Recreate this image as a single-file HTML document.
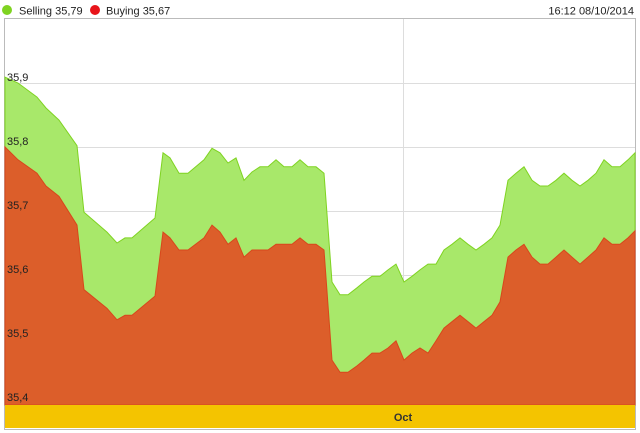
<!DOCTYPE html>
<html><head><meta charset="utf-8"><style>
body{margin:0;background:#fff;font-family:"Liberation Sans",sans-serif}
svg{display:block}
</style></head><body>
<svg id="c" width="640" height="433">
<g>
<circle cx="7" cy="10" r="5" fill="#7fd321"/>
<text x="19" y="14.5" font-size="11" fill="#222">Selling 35,79</text>
<circle cx="95" cy="10" r="5" fill="#e8141a"/>
<text x="106" y="14.5" font-size="11" fill="#222">Buying 35,67</text>
<text x="634" y="14.5" font-size="11" fill="#222" text-anchor="end">16:12 08/10/2014</text>
</g>
<rect x="4.5" y="18.5" width="631" height="411" fill="none" stroke="#bbb"/>
<g id="grid"></g>
<g id="areas"></g>
<g id="ylabels"></g>
<rect x="5" y="405" width="630" height="23" fill="#f4c400"/>
<text x="403" y="421" font-size="11" font-weight="bold" fill="#333" text-anchor="middle">Oct</text>
</svg>
<script>
const t=[0,13,32,41,54,72,79,102,112,120,127,150,158,165,174,183,199,207,215,223,231,239,247,255,263,271,279,287,295,303,311,319,327,335,343,352,359,367,375,383,391,399,407,415,423,431,439,447,455,463,471,479,487,495,503,511,519,527,535,543,551,559,567,575,583,591,599,607,615,623,630];
const selling=[35.909,35.9,35.878,35.861,35.842,35.802,35.698,35.667,35.65,35.658,35.658,35.689,35.791,35.783,35.759,35.759,35.78,35.798,35.791,35.775,35.783,35.748,35.761,35.769,35.769,35.78,35.769,35.769,35.78,35.769,35.769,35.759,35.589,35.569,35.569,35.58,35.589,35.598,35.598,35.608,35.617,35.589,35.598,35.608,35.617,35.617,35.639,35.648,35.658,35.648,35.639,35.648,35.658,35.678,35.748,35.759,35.769,35.748,35.739,35.739,35.748,35.759,35.748,35.739,35.748,35.759,35.78,35.769,35.769,35.78,35.791];
const buying=[35.8,35.78,35.759,35.739,35.723,35.678,35.577,35.548,35.53,35.537,35.537,35.567,35.667,35.658,35.639,35.639,35.658,35.678,35.667,35.648,35.658,35.628,35.639,35.639,35.639,35.648,35.648,35.648,35.658,35.648,35.648,35.639,35.467,35.448,35.448,35.458,35.467,35.478,35.478,35.486,35.497,35.467,35.478,35.486,35.478,35.497,35.517,35.527,35.537,35.527,35.517,35.527,35.537,35.558,35.628,35.639,35.648,35.628,35.617,35.617,35.628,35.639,35.628,35.617,35.628,35.639,35.658,35.648,35.648,35.658,35.669];
const yTicks=[35.4,35.5,35.6,35.7,35.8,35.9];
const yLabels=["35,4","35,5","35,6","35,7","35,8","35,9"];
const NS="http://www.w3.org/2000/svg";
const X=v=>5+v, Y=v=>83+(35.9-v)*640, BASE=405;
const grid=document.getElementById('grid'),areas=document.getElementById('areas'),yl=document.getElementById('ylabels');
yTicks.forEach((v,i)=>{
 const l=document.createElementNS(NS,'line');
 l.setAttribute('x1',5);l.setAttribute('x2',635);l.setAttribute('y1',Y(v)+.5);l.setAttribute('y2',Y(v)+.5);
 l.setAttribute('stroke','#ddd');
 
 
 grid.appendChild(l);
 const tx=document.createElementNS(NS,'text');
 tx.setAttribute('x',7);tx.setAttribute('y',Y(v)-2);tx.setAttribute('font-size','11');tx.setAttribute('fill','#222');
 tx.textContent=yLabels[i];
 
 
 yl.appendChild(tx);
});
const vl=document.createElementNS(NS,'line');
vl.setAttribute('x1',403.5);vl.setAttribute('x2',403.5);vl.setAttribute('y1',19);vl.setAttribute('y2',405);vl.setAttribute('stroke','#ddd');


grid.appendChild(vl);
function area(vals,fill,stroke,name){
 const n=Math.min(vals.length,t.length);
 let d='M'+X(t[0])+','+BASE;
 for(let i=0;i<n;i++){d+=' L'+X(t[i])+','+Y(vals[i]).toFixed(1);}
 d+=' L'+X(t[n-1])+','+BASE+' Z';
 const p=document.createElementNS(NS,'path');
 p.setAttribute('d',d);p.setAttribute('fill',fill);p.setAttribute('stroke',stroke);p.setAttribute('stroke-width','1');
 
 
 areas.appendChild(p);
}
area(selling,'#a8e86a','#7fd321','selling-area');
area(buying,'#dc5e2a','#d8471c','buying-area');
</script>
</body></html>
